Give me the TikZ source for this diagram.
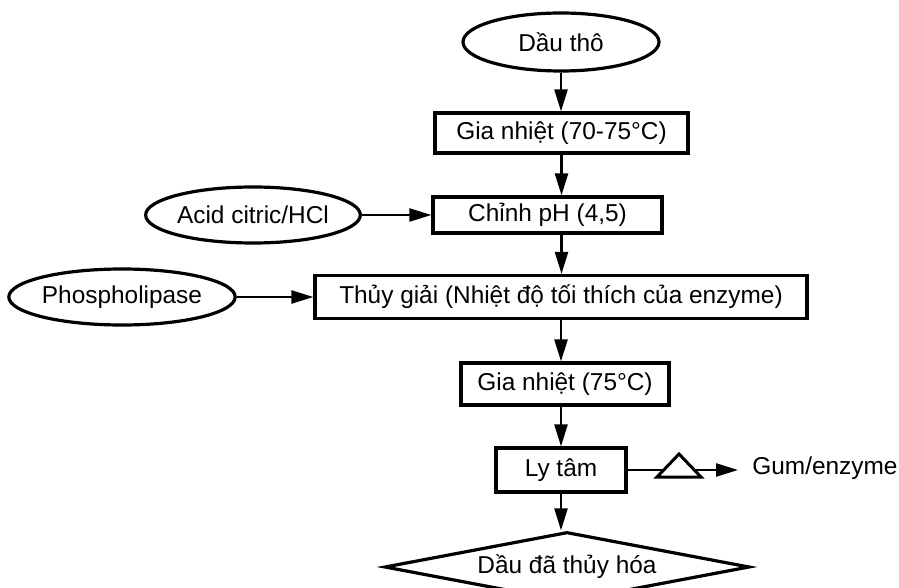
\documentclass[tikz,border=0pt]{standalone}
\usepackage{fontspec}
\setmainfont{Liberation Sans}
\usetikzlibrary{arrows.meta,shapes.geometric,calc}
\newcommand{\flowfont}{\fontsize{12.2}{14}\selectfont}
\tikzset{
  box/.style={draw=black, rectangle, line width=1.6pt, inner sep=0pt,
    font=\flowfont, text=black},
  oval/.style={draw=black, ellipse, line width=1.6pt, inner sep=0pt,
    font=\flowfont, text=black},
  ketqua/.style={draw=black, diamond, aspect=5, line width=1.6pt, inner sep=0pt,
    font=\flowfont, text=black},
  flow/.style={-{Triangle[length=11pt,width=6.5pt]}, line width=1.2pt, draw=black},
}

\begin{document}
\begin{tikzpicture}[x=0.5pt,y=-0.5pt]
  \clip (0,0) rectangle (899,588);
  % main column
  \node[oval, minimum width=98pt, minimum height=29pt] (tho) at (561,42) {Dầu thô};
  \node[box, minimum width=126.5pt, minimum height=20pt] (gn1) at (561.5,133) {Gia nhiệt (70-75°C)};
  \node[box, minimum width=114.5pt, minimum height=18pt] (ph) at (547.5,215) {Chỉnh pH (4,5)};
  \node[box, minimum width=246pt, minimum height=21.5pt] (thuy) at (561,297) {Thủy giải (Nhiệt độ tối thích của enzyme)};
  \node[box, minimum width=104pt, minimum height=21pt] (gn2) at (565,384) {Gia nhiệt (75°C)};
  \node[box, minimum width=65pt, minimum height=22pt] (ly) at (561,470) {Ly tâm};
  \node[ketqua, minimum width=182.5pt, minimum height=35pt] (kq) at (567,567) {Dầu đã thủy hóa};
  % inputs and outputs
  \node[oval, minimum width=90pt, minimum height=28pt] (acid) at (253,215) {Acid citric/HCl};
  \node[oval, minimum width=111pt, minimum height=28pt] (phos) at (122,297) {Phospholipase};
  \node[font=\flowfont, anchor=west, inner sep=0pt] (gum) at (752,468) {Gum/enzyme};

  \draw[flow] (tho.south) -- (tho.south |- gn1.north);
  \draw[flow] (gn1.south) -- (gn1.south |- ph.north);
  \draw[flow] (gn1.south |- ph.south) -- (gn1.south |- thuy.north);
  \draw[flow] (thuy.south) -- (thuy.south |- gn2.north);
  \draw[flow] (thuy.south |- gn2.south) -- (thuy.south |- ly.north);
  \draw[flow] (ly.south) -- (ly.south |- kq.north);
  \draw[flow] (acid) -- (ph);
  \draw[flow] (phos) -- (thuy);
  \draw[flow, shorten >=7pt] (ly.east) -- (ly.east -| gum.west);
  % separation mark
  \coordinate (lock) at (679,477);
  \draw[line width=1.5pt, fill=white] (lock) ++(-22,0) -- ++(44,0) -- ++(-22,-23) -- cycle;
\end{tikzpicture}
\end{document}
